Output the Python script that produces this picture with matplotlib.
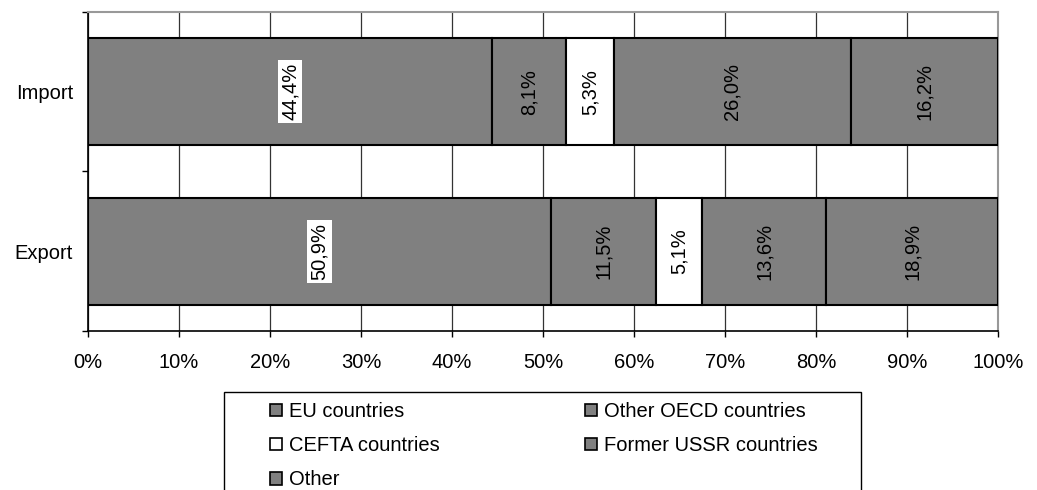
import matplotlib
matplotlib.use("Agg")
import matplotlib.pyplot as plt
from matplotlib.patches import Patch, Rectangle

plt.rcParams['font.family'] = ['Liberation Sans', 'DejaVu Sans']

# data
categories = ["Export", "Import"]
groups = ["EU countries", "Other OECD countries", "CEFTA countries",
          "Former USSR countries", "Other"]
import_share = [44.4, 8.1, 5.3, 26.0, 16.2]
export_share = [50.9, 11.5, 5.1, 13.6, 18.9]
colors = ["#808080", "#808080", "#ffffff", "#808080", "#808080"]

W, H = 1037, 490
FS = 14.5
fig = plt.figure(figsize=(W / 100, H / 100), dpi=100)
ax = fig.add_axes([88 / W, 1 - 331 / H, (998 - 88) / W, (331 - 12) / H])

rows = {"Export": export_share, "Import": import_share}
for yi, cat in enumerate(categories):
    vals = rows[cat]
    left = 0
    for gi, v in enumerate(vals):
        ax.barh(yi, v, left=left, height=0.67, color=colors[gi],
                edgecolor="black", linewidth=1.5, zorder=3)
        txt = ("%.1f%%" % v).replace(".", ",")
        kw = {}
        if gi == 0:
            kw["bbox"] = dict(facecolor="white", edgecolor="none", pad=2)
        ax.text(left + v / 2, yi, txt, rotation=90, ha="center", va="center",
                fontsize=FS, zorder=4, **kw)
        left += v

ax.set_xlim(0, 100)
ax.set_ylim(-0.5, 1.5)
ax.set_xticks(range(0, 101, 10))
ax.set_xticklabels(["%d%%" % t for t in range(0, 101, 10)], fontsize=FS)
ax.set_yticks([0, 1])
ax.set_yticklabels(categories, fontsize=FS)
ax.set_yticks([-0.5, 0.5, 1.5], minor=True)
ax.tick_params(axis="y", which="major", length=0, pad=10.8)
ax.tick_params(axis="y", which="minor", length=4.5, width=1, direction="out")
ax.tick_params(axis="x", length=4.5, width=1, direction="out", pad=11.5)
ax.xaxis.grid(True, color="#333333", linewidth=0.9, zorder=0)
ax.set_axisbelow(True)

for s in ["left", "bottom"]:
    ax.spines[s].set_color("black")
    ax.spines[s].set_linewidth(1.2)
for s in ["top", "right"]:
    ax.spines[s].set_color("#999999")
    ax.spines[s].set_linewidth(1.5)

# legend (filled column by column)
order = [0, 2, 4, 1, 3]
handles = [Patch(facecolor=colors[i], edgecolor="black", linewidth=1.2, label=groups[i])
           for i in order]
fig.legend(handles=handles, loc="upper left", ncol=2, frameon=False,
           bbox_to_anchor=(270 / W, 1 - 402 / H), borderaxespad=0, borderpad=0,
           fontsize=FS, handlelength=0.6, handleheight=0.6, handletextpad=0.35,
           labelspacing=0.75, columnspacing=7.2)
fig.patches.append(Rectangle((224 / W, -0.1), (861 - 224) / W, 0.1 + (490 - 392) / H,
                             transform=fig.transFigure, facecolor="none",
                             edgecolor="black", linewidth=1))

fig.savefig("out.png", dpi=100)
